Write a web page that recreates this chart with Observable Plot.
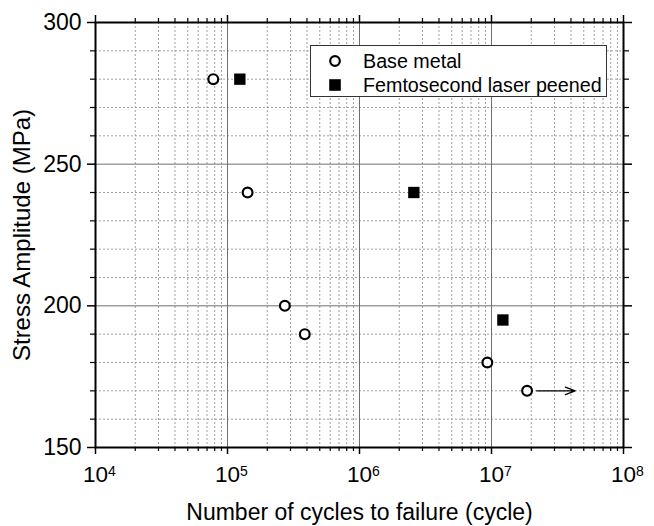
<!DOCTYPE html>
<html><head><meta charset="utf-8">
<script src="https://cdn.jsdelivr.net/npm/d3@7"></script>
<script src="https://cdn.jsdelivr.net/npm/@observablehq/plot@0.6"></script>
<style>
body{margin:0;background:#fff;font-family:"Liberation Sans",Arial,sans-serif;}
#wrap{position:relative;width:654px;height:526px;}
#legend{position:absolute;left:310px;top:45px;width:295px;height:50px;border:1.5px solid #333;background:#fff;}
.item{position:absolute;left:0;height:24px;width:290px;font-size:19.7px;color:#000;line-height:24px;}
.item svg{position:absolute;left:16px;top:4px;}
.item span{position:absolute;left:52px;top:0;white-space:nowrap;}
</style></head>
<body><div id="wrap"></div>
<script>
// ---- data ----
const baseCycles = [7.8e4, 1.42e5, 2.72e5, 3.85e5, 9.3e6, 1.86e7];
const baseStress = [280, 240, 200, 190, 180, 170];
const laserCycles = [1.24e5, 2.58e6, 1.22e7];
const laserStress = [280, 240, 195];
const runoutFrom = [2.2e7];
const runoutTo = [4.3e7];
const runoutStress = [170];
const seriesNames = ["Base metal", "Femtosecond laser peened"];

// ---- ticks ----
const xMajor = [1e4, 1e5, 1e6, 1e7, 1e8];
const xInnerMajor = [1e5, 1e6, 1e7];
const decades = [1e4, 1e5, 1e6, 1e7];
const mults = [2, 3, 4, 5, 6, 7, 8, 9];
const xMinor = decades.flatMap(d => mults.map(m => d * m));
const yMajor = [150, 200, 250, 300];
const yInnerMajor = [200, 250];
const yMinor = [160, 170, 180, 190, 210, 220, 230, 240, 260, 270, 280, 290];

const base = baseCycles.map((c, i) => ({cycles: c, stress: baseStress[i]}));
const laser = laserCycles.map((c, i) => ({cycles: c, stress: laserStress[i]}));
const runout = runoutFrom.map((c, i) => ({from: c, to: runoutTo[i], stress: runoutStress[i]}));

const blank = () => "";
const chart = Plot.plot({
  width: 654, height: 526,
  marginLeft: 95, marginRight: 31, marginTop: 22, marginBottom: 79,
  style: {fontFamily: "'Liberation Sans', Arial, sans-serif", fontSize: "20px", background: "white", color: "black"},
  x: {type: "log", domain: [1e4, 1e8]},
  y: {domain: [150, 300]},
  marks: [
    Plot.ruleX(xMinor, {stroke: "#a0a0a0", strokeDasharray: "2,2", strokeWidth: 1}),
    Plot.ruleY(yMinor, {stroke: "#a0a0a0", strokeDasharray: "2,2", strokeWidth: 1}),
    Plot.ruleX(xInnerMajor, {stroke: "#6f6f6f", strokeWidth: 1}),
    Plot.ruleY(yInnerMajor, {stroke: "#6f6f6f", strokeWidth: 1}),
    Plot.axisX(xMajor, {anchor: "bottom", tickSize: 7, tickPadding: 12, strokeWidth: 1.5,
      tickFormat: d => "10^" + Math.round(Math.log10(d)),
      label: "Number of cycles to failure (cycle)", labelAnchor: "center", labelOffset: 72, labelArrow: "none"}),
    Plot.axisX(xMinor, {anchor: "bottom", tickSize: 4, tickFormat: blank, label: null, strokeWidth: 1.2}),
    Plot.axisX(xMajor, {anchor: "top", tickSize: 8, tickFormat: blank, label: null, strokeWidth: 1.5}),
    Plot.axisX(xMinor, {anchor: "top", tickSize: 5, tickFormat: blank, label: null, strokeWidth: 1.2}),
    Plot.axisY(yMajor, {anchor: "left", tickSize: 8, tickPadding: 6, strokeWidth: 1.5,
      label: "Stress Amplitude (MPa)", labelAnchor: "center", labelOffset: 83, labelArrow: "none"}),
    Plot.axisY(yMinor, {anchor: "left", tickSize: 5, tickFormat: blank, label: null, strokeWidth: 1.2}),
    Plot.axisY(yMajor, {anchor: "right", tickSize: 8, tickFormat: blank, label: null, strokeWidth: 1.5}),
    Plot.axisY(yMinor, {anchor: "right", tickSize: 5, tickFormat: blank, label: null, strokeWidth: 1.2}),
    Plot.frame({stroke: "black", strokeWidth: 2}),
    Plot.arrow(runout, {x1: "from", x2: "to", y1: "stress", y2: "stress", stroke: "black", strokeWidth: 1.3, headLength: 12, headAngle: 42}),
    Plot.dot(base, {x: "cycles", y: "stress", r: 4.9, stroke: "black", strokeWidth: 2.2, fill: "white"}),
    Plot.dot(laser, {x: "cycles", y: "stress", symbol: "square", r: 6.4, fill: "black", stroke: "none"})
  ]
});

// font sizes
const setSize = (sel, size) => chart.querySelectorAll(sel).forEach(t => t.style.fontSize = size);
setSize('g[aria-label="y-axis tick label"] text', "23px");
setSize('g[aria-label="x-axis tick label"] text', "22.5px");
setSize('g[aria-label="x-axis label"] text', "23px");
setSize('g[aria-label="y-axis label"] text', "24px");

// superscript exponents on x tick labels
chart.querySelectorAll("text").forEach(t => {
  const m = /^10\^(\d+)$/.exec(t.textContent);
  if (!m) return;
  t.textContent = "";
  const ns = "http://www.w3.org/2000/svg";
  const a = document.createElementNS(ns, "tspan"); a.textContent = "10";
  const b = document.createElementNS(ns, "tspan"); b.textContent = m[1];
  b.setAttribute("dy", "-0.45em"); b.style.fontSize = "14px";
  t.appendChild(a); t.appendChild(b);
  t.setAttribute("dx", "4");
});

const wrap = document.getElementById("wrap");
wrap.appendChild(chart);

const legend = document.createElement("div");
legend.id = "legend";
const symbols = [
  '<svg width="16" height="16"><circle cx="8" cy="8" r="4.8" fill="white" stroke="black" stroke-width="2.2"/></svg>',
  '<svg width="16" height="16"><rect x="2.2" y="2.2" width="11.6" height="11.6" fill="black"/></svg>'
];
seriesNames.forEach((name, i) => {
  const it = document.createElement("div");
  it.className = "item";
  it.style.top = (2.5 + i * 24) + "px";
  it.innerHTML = symbols[i] + "<span>" + name + "</span>";
  legend.appendChild(it);
});
wrap.appendChild(legend);
</script>
</body></html>
